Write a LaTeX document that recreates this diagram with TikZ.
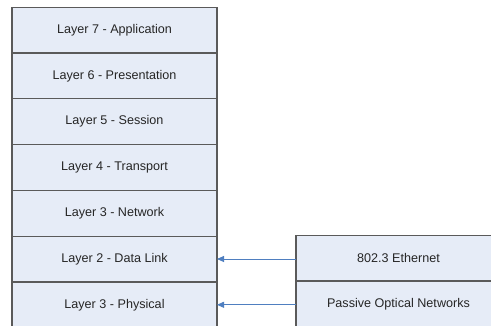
\documentclass[tikz,border=0pt]{standalone}
\usepackage{fontspec}
\setmainfont{Liberation Sans}
\usetikzlibrary{arrows.meta}
\definecolor{layerfill}{HTML}{E6ECF7}
\definecolor{layerline}{HTML}{5A5A5A}
\definecolor{linkblue}{HTML}{4F7FC0}
\tikzset{
  layer/.style={draw=layerline, line width=1.2pt, fill=layerfill,
    minimum width=205pt, minimum height=45.8pt, inner sep=0pt, outer sep=0pt,
    font=\fontsize{12.6}{14}\selectfont, text=black!85},
  maplink/.style={draw=linkblue, line width=0.9pt,
    -{Triangle[length=7pt,width=6pt]}}
}
\begin{document}
\begin{tikzpicture}[x=1pt,y=-1pt]
  \useasboundingbox (0,0) rectangle (491,325);
  \clip (0,0) rectangle (491,325);
  % OSI stack
  \node[layer] (l7) at (114.5,30) {Layer 7 - Application};
  \node[layer, anchor=north] (l6) at (l7.south) {Layer 6 - Presentation};
  \node[layer, anchor=north] (l5) at (l6.south) {Layer 5 - Session};
  \node[layer, anchor=north] (l4) at (l5.south) {Layer 4 - Transport};
  \node[layer, anchor=north] (l3) at (l4.south) {Layer 3 - Network};
  \node[layer, anchor=north] (l2) at (l3.south) {Layer 2 - Data Link};
  \node[layer, anchor=north] (l1) at (l2.south) {Layer 3 - Physical};
  % Technologies
  \node[layer, anchor=north west] (eth) at (296,235.2) {802.3 Ethernet};
  \node[layer, anchor=north] (pon) at (eth.south) {Passive Optical Networks};
  % Mappings
  \draw[maplink] (l2.east -| eth.west) -- (l2.east);
  \draw[maplink] (l1.east -| pon.west) -- (l1.east);
\end{tikzpicture}
\end{document}
